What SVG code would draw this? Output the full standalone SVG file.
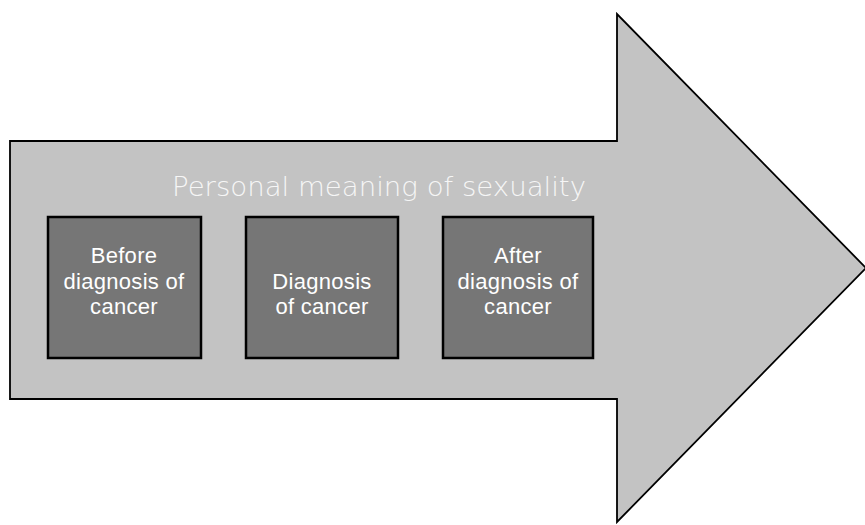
<svg xmlns="http://www.w3.org/2000/svg" width="865" height="525" viewBox="0 0 865 525">
<style>
.box{fill:#767676;stroke:#000;stroke-width:2.5}
.bt{font-family:"Liberation Sans",Arial,sans-serif;font-size:22px;letter-spacing:0.3px;fill:#fff;text-anchor:middle}
.title{font-family:"DejaVu Sans","Liberation Sans",sans-serif;font-weight:200;font-size:27px;fill:#f6f6f6}
</style>
<rect width="865" height="525" fill="#fff"/>
<g id="arrow">
<polygon points="10,141 617,141 617,14 866,268 617,522 617,399 10,399" fill="#c3c3c3" stroke="#000" stroke-width="1.8"/>
<text class="title" x="172" y="196" textLength="414" lengthAdjust="spacingAndGlyphs">Personal meaning of sexuality</text>
</g>
<g id="before">
<rect class="box" x="48" y="217" width="153" height="141"/>
<text class="bt" x="124" y="263">Before</text>
<text class="bt" x="124" y="289">diagnosis of</text>
<text class="bt" x="124" y="314">cancer</text>
</g>
<g id="diagnosis">
<rect class="box" x="246" y="217" width="152" height="141"/>
<text class="bt" x="322" y="289">Diagnosis</text>
<text class="bt" x="322" y="314">of cancer</text>
</g>
<g id="after">
<rect class="box" x="443" y="217" width="150" height="141"/>
<text class="bt" x="518" y="263">After</text>
<text class="bt" x="518" y="289">diagnosis of</text>
<text class="bt" x="518" y="314">cancer</text>
</g>
<g id="connectors"/>
</svg>
